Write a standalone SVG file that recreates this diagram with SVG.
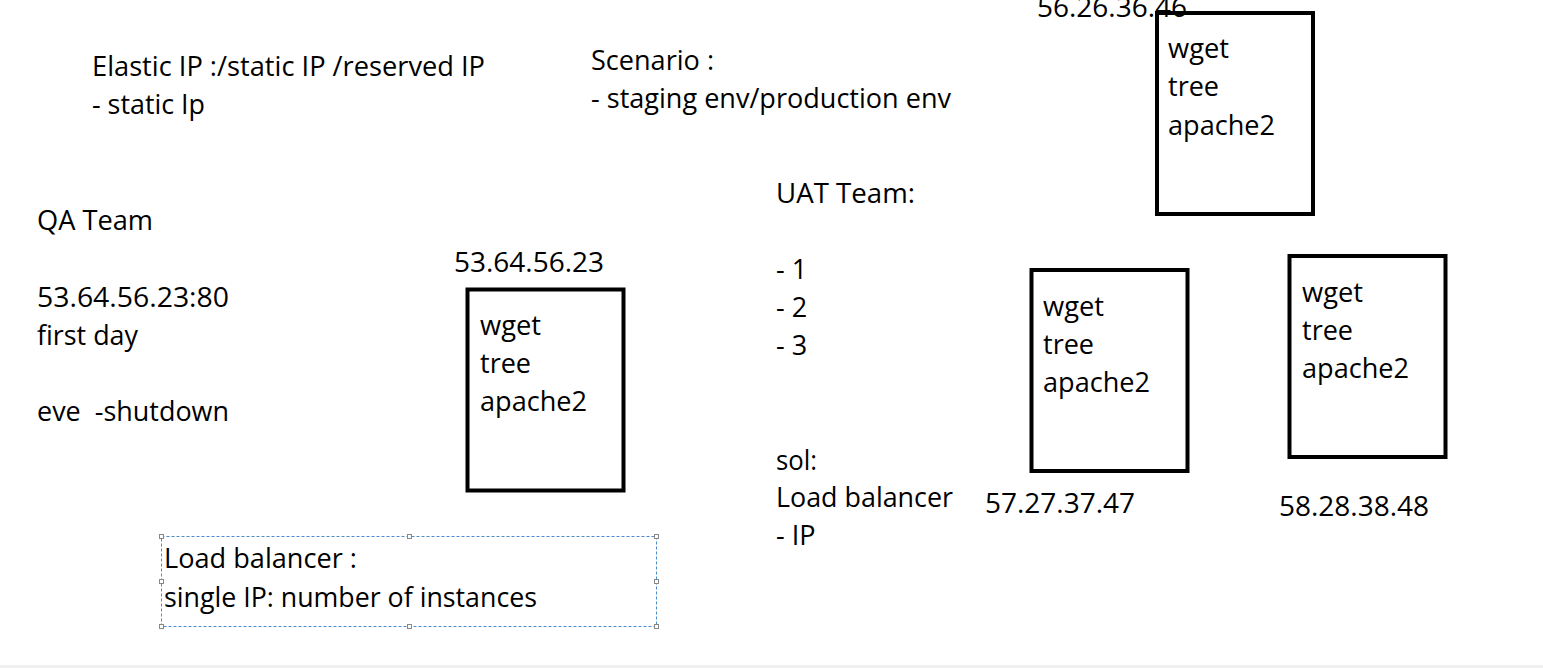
<svg xmlns="http://www.w3.org/2000/svg" width="1543" height="668" viewBox="0 0 1543 668">
<style>
text{font-family:"Open Sans","Noto Sans","Liberation Sans",sans-serif;font-size:27px;fill:#000}
.box{fill:none;stroke:#000;stroke-width:4}
.sel{fill:none;stroke:#4a8ccc;stroke-width:1;stroke-dasharray:3 2}
.h{fill:#fff;stroke:#888;stroke-width:1}
</style>
<rect width="1543" height="668" fill="#fff"/>
<rect x="0" y="665" width="1543" height="3" fill="#f0f0f0"/>

<g id="notes-elastic">
<text x="92" y="76" textLength="393" lengthAdjust="spacingAndGlyphs">Elastic IP :/static IP /reserved IP</text>
<text x="92" y="114" textLength="113" lengthAdjust="spacingAndGlyphs">- static Ip</text>
</g>
<g id="notes-scenario">
<text x="591" y="70" textLength="123" lengthAdjust="spacingAndGlyphs">Scenario :</text>
<text x="591" y="108" textLength="360" lengthAdjust="spacingAndGlyphs">- staging env/production env</text>
</g>
<g id="notes-qa">
<text x="37" y="230" textLength="116" lengthAdjust="spacingAndGlyphs">QA Team</text>
<text x="37" y="307" textLength="192" lengthAdjust="spacingAndGlyphs">53.64.56.23:80</text>
<text x="37" y="345" textLength="101" lengthAdjust="spacingAndGlyphs">first day</text>
<text x="37" y="421" textLength="192" lengthAdjust="spacingAndGlyphs" xml:space="preserve">eve  -shutdown</text>
</g>
<g id="notes-uat">
<text x="776" y="203" textLength="139" lengthAdjust="spacingAndGlyphs">UAT Team:</text>
<text x="776" y="279">- 1</text>
<text x="776" y="317">- 2</text>
<text x="776" y="355">- 3</text>
<text x="776" y="470" textLength="41" lengthAdjust="spacingAndGlyphs">sol:</text>
<text x="776" y="507" textLength="177" lengthAdjust="spacingAndGlyphs">Load balancer</text>
<text x="776" y="545">- IP</text>
</g>

<g id="server-top">
<text x="1037" y="17" textLength="150" lengthAdjust="spacingAndGlyphs">56.26.36.46</text>
<rect class="box" x="1157" y="13" width="156" height="201"/>
<text x="1168" y="58" textLength="61" lengthAdjust="spacingAndGlyphs">wget</text>
<text x="1168" y="96" textLength="51" lengthAdjust="spacingAndGlyphs">tree</text>
<text x="1168" y="135" textLength="107" lengthAdjust="spacingAndGlyphs">apache2</text>
</g>

<g id="server-qa">
<text x="454" y="272" textLength="150" lengthAdjust="spacingAndGlyphs">53.64.56.23</text>
<rect class="box" x="467.5" y="289.5" width="156" height="201"/>
<text x="480" y="335" textLength="61" lengthAdjust="spacingAndGlyphs">wget</text>
<text x="480" y="373" textLength="51" lengthAdjust="spacingAndGlyphs">tree</text>
<text x="480" y="411" textLength="107" lengthAdjust="spacingAndGlyphs">apache2</text>
</g>

<g id="server-uat1">
<rect class="box" x="1031.5" y="270" width="156" height="201"/>
<text x="1043" y="316" textLength="61" lengthAdjust="spacingAndGlyphs">wget</text>
<text x="1043" y="354" textLength="51" lengthAdjust="spacingAndGlyphs">tree</text>
<text x="1043" y="392" textLength="107" lengthAdjust="spacingAndGlyphs">apache2</text>
<text x="985" y="513" textLength="150" lengthAdjust="spacingAndGlyphs">57.27.37.47</text>
</g>

<g id="server-uat2">
<rect class="box" x="1289.5" y="256" width="156" height="201"/>
<text x="1302" y="302" textLength="61" lengthAdjust="spacingAndGlyphs">wget</text>
<text x="1302" y="340" textLength="51" lengthAdjust="spacingAndGlyphs">tree</text>
<text x="1302" y="378" textLength="107" lengthAdjust="spacingAndGlyphs">apache2</text>
<text x="1279" y="516" textLength="150" lengthAdjust="spacingAndGlyphs">58.28.38.48</text>
</g>

<g id="load-balancer-note">
<rect class="sel" x="161.5" y="536.5" width="495" height="90"/>
<rect class="h" x="159.5" y="534.5" width="4" height="4"/>
<rect class="h" x="407.5" y="534.5" width="4" height="4"/>
<rect class="h" x="654.5" y="534.5" width="4" height="4"/>
<rect class="h" x="159.5" y="579.5" width="4" height="4"/>
<rect class="h" x="654.5" y="579.5" width="4" height="4"/>
<rect class="h" x="159.5" y="624.5" width="4" height="4"/>
<rect class="h" x="407.5" y="624.5" width="4" height="4"/>
<rect class="h" x="654.5" y="624.5" width="4" height="4"/>
<text x="164" y="568" textLength="193" lengthAdjust="spacingAndGlyphs">Load balancer :</text>
<text x="164" y="607" textLength="373" lengthAdjust="spacingAndGlyphs">single IP: number of instances</text>
</g>

<g id="connectors"/>
</svg>
